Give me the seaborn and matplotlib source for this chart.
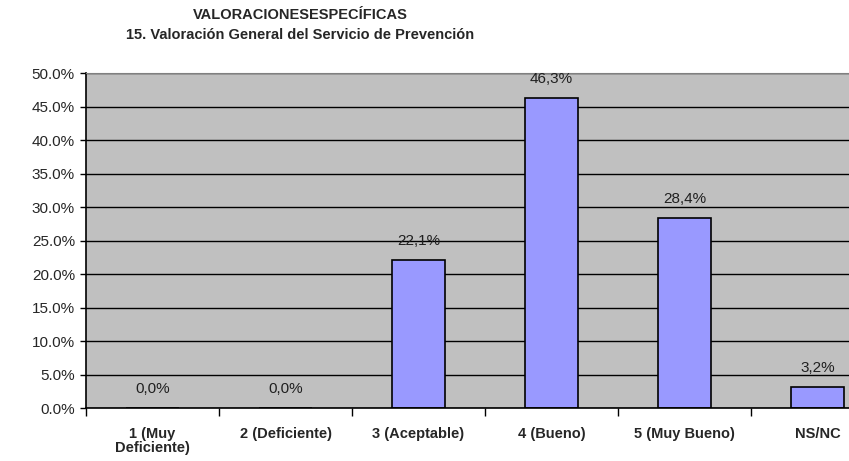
import numpy as np
import pandas as pd
import matplotlib
matplotlib.use("Agg")
import matplotlib.pyplot as plt
import seaborn as sns

categories = ["1 (Muy\nDeficiente)", "2 (Deficiente)", "3 (Aceptable)", "4 (Bueno)", "5 (Muy Bueno)", "NS/NC"]
values = [0.0, 0.0, 22.1, 46.3, 28.4, 3.2]
value_labels = ["0,0%", "0,0%", "22,1%", "46,3%", "28,4%", "3,2%"]
yticks = [0, 5, 10, 15, 20, 25, 30, 35, 40, 45, 50]

df = pd.DataFrame({"categoria": categories, "valor": values})

sns.set_style("white")
plt.rcParams["font.family"] = ["Liberation Sans", "DejaVu Sans"]

fig = plt.figure(figsize=(8.49, 4.61), dpi=100)
# plot area runs past the right edge, as in the original crop
ax = fig.add_axes([86 / 849, 53 / 461, 798 / 849, 335 / 461])
ax.set_facecolor("#C0C0C0")
ax.set_axisbelow(True)

sns.barplot(data=df, x="categoria", y="valor", color="#9999FF", width=0.4,
            edgecolor="black", linewidth=1.2, saturation=1, ax=ax)

for i, (v, lab) in enumerate(zip(values, value_labels)):
    ax.text(i, v + 2.8, lab, ha="center", va="center", fontsize=11, color="#202020")

ax.set_xlim(-0.5, 5.5)
ax.set_ylim(0, 50)
ax.set_yticks(yticks)
ax.set_yticklabels([f"{t:.1f}%" for t in yticks], fontsize=11)
ax.yaxis.grid(True, color="black", linewidth=1)
ax.tick_params(axis="y", length=4, width=1, color="black", pad=4, left=True)

ax.set_xticks(range(len(categories)))
ax.set_xticklabels(categories, fontsize=10.5, fontweight="bold", linespacing=1.0)
ax.tick_params(axis="x", which="major", length=0, pad=14)
ax.set_xticks(np.arange(-0.5, 6, 1), minor=True)
ax.tick_params(axis="x", which="minor", length=6, width=1, color="black", bottom=True)

ax.set_xlabel("")
ax.set_ylabel("")
for s in ["left", "bottom"]:
    ax.spines[s].set_color("black")
    ax.spines[s].set_linewidth(1.2)
ax.spines["top"].set_color("#808080")
ax.spines["right"].set_visible(False)

fig.text(300 / 849, 1 - 15 / 461, "VALORACIONESESPECÍFICAS", ha="center", va="center",
         fontsize=10.5, fontweight="bold")
fig.text(300 / 849, 1 - 35 / 461, "15. Valoración General del Servicio de Prevención",
         ha="center", va="center", fontsize=10.5, fontweight="bold")

fig.savefig("out.png", dpi=100)
